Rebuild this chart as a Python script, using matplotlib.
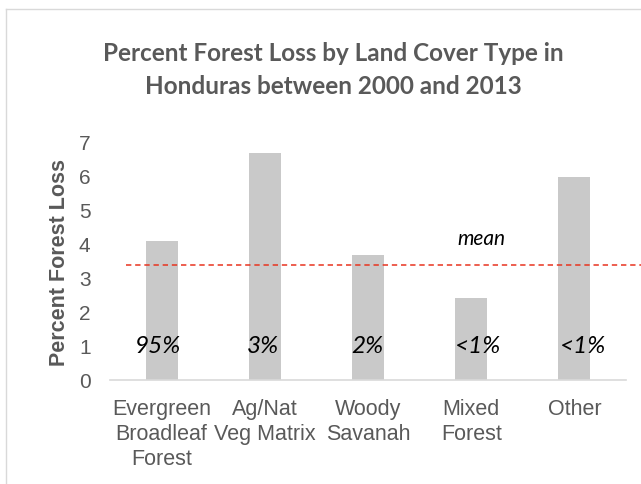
import matplotlib
matplotlib.use("Agg")
import matplotlib.pyplot as plt
from matplotlib.lines import Line2D
import numpy as np

categories = ["Evergreen\nBroadleaf\nForest", "Ag/Nat\nVeg Matrix", "Woody\nSavanah", "Mixed\nForest", "Other"]
loss_pct = [4.1, 6.68, 3.67, 2.4, 5.97]
share_labels = ["95%", "3%", "2%", "<1%", "<1%"]
share_offsets = [-0.04, -0.02, -0.01, 0.07, 0.08]
mean_value = 3.39
y_ticks = [0, 1, 2, 3, 4, 5, 6, 7]

title = "Percent Forest Loss by Land Cover Type in\nHonduras between 2000 and 2013"
ylabel = "Percent Forest Loss"

TXT = "#595959"
fig = plt.figure(figsize=(6.41, 4.85), dpi=100)
ax = fig.add_axes([110/641, 1-381/485, (626-110)/641, (381-143)/485])

x = np.arange(len(categories))
ax.bar(x, loss_pct, width=0.31, color="#c9c9c9", zorder=2)
ax.set_xlim(-0.5, len(categories)-0.5)
ax.set_ylim(0, 7)
ax.set_yticks(y_ticks)
ax.set_xticks(x)
ax.set_xticklabels(categories, fontfamily="Liberation Sans", fontsize=15.5,
                   color=TXT, linespacing=1.25)
ax.tick_params(axis="x", length=0, pad=13)
ax.tick_params(axis="y", length=0, pad=14, labelsize=15, labelcolor=TXT)
for lbl in ax.get_yticklabels():
    lbl.set_fontfamily("Liberation Sans")
for s in ["top", "right", "left"]:
    ax.spines[s].set_visible(False)
ax.spines["bottom"].set_color("#d9d9d9")
ax.spines["bottom"].set_linewidth(1.2)

ax.set_ylabel(ylabel, fontfamily="Liberation Sans", fontweight="bold",
              fontsize=15.5, color=TXT, labelpad=6)

# mean line
ax.plot([-0.344, 4.7], [mean_value, mean_value], linestyle=(0, (3.5, 2.5)),
        color="#e8331f", linewidth=1.1, clip_on=False, zorder=3)
ax.text(3.10, mean_value + 0.79, "mean", fontfamily="Lato", fontstyle="italic",
        fontsize=15, color="black", ha="center", va="center")

for xi, lab, off in zip(x, share_labels, share_offsets):
    ax.text(xi + off, 1.0, lab, fontfamily="Lato", fontstyle="italic",
            fontsize=17.5, color="black", ha="center", va="center", zorder=4)

fig.text(333/641, 1-70/485, title, fontfamily="Lato", fontweight="bold",
         fontsize=17.5, color=TXT, ha="center", va="center", linespacing=1.5)

# chart border (left & top visible)
fig.add_artist(Line2D([5.5/641, 5.5/641], [0, 1-10/485], transform=fig.transFigure,
                      color="#d9d9d9", linewidth=1.0))
fig.add_artist(Line2D([5.5/641, 1], [1-10/485, 1-10/485], transform=fig.transFigure,
                      color="#d9d9d9", linewidth=1.0))

fig.savefig("out.png", dpi=100, facecolor="white")
